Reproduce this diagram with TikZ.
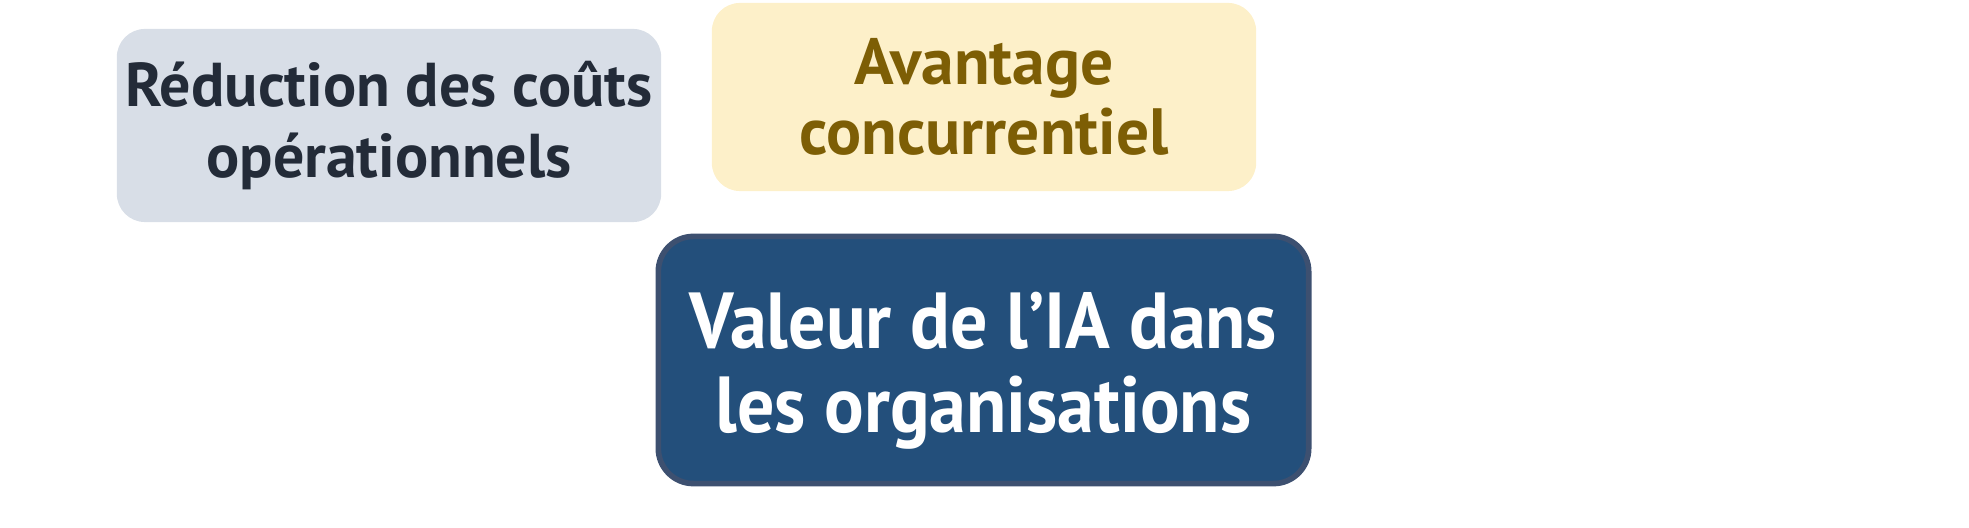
\documentclass[tikz,border=0pt]{standalone}
\usepackage{fontspec}
\setmainfont{PT Sans}
\newfontfamily\valuefont[FakeStretch=0.93]{PT Sans}
\usepackage{xcolor}
\usepackage{tikz}
\usetikzlibrary{positioning}

\definecolor{costfill}{HTML}{D8DEE7}
\definecolor{costtext}{HTML}{232B38}
\definecolor{edgefill}{HTML}{FDF0C9}
\definecolor{edgetext}{HTML}{7D5E05}
\definecolor{valuefill}{HTML}{234F7B}
\definecolor{valueline}{HTML}{3D5070}

\begin{document}
\begin{tikzpicture}[x=0.01cm, y=-0.01cm,
  boxnode/.style={rounded corners=8pt, align=center, inner sep=0pt},
  costnode/.style={boxnode, fill=costfill, text=costtext, minimum width=5.44cm, minimum height=1.93cm, font=\bfseries\fontsize{17.6}{20}\selectfont},
  edgenode/.style={boxnode, fill=edgefill, text=edgetext, minimum width=5.44cm, minimum height=1.88cm, font=\bfseries\fontsize{18.6}{20}\selectfont},
  valuenode/.style={boxnode, fill=valuefill, draw=valueline, line width=1.6pt, rounded corners=10pt, text=white, minimum width=6.50cm, minimum height=2.47cm, font=\valuefont\bfseries\fontsize{22.6}{24}\selectfont}]
\useasboundingbox (0,0) rectangle (1969,528);

\node[costnode] (cost) at (389, 125.5) {Réduction des coûts\\opérationnels};
\node[edgenode] (edge) at (984, 97) {Avantage\\concurrentiel};
\node[valuenode] (value) at (983.5, 360) {\rule{0pt}{22pt}Valeur de l’IA dans\\les organisations};

\end{tikzpicture}
\end{document}
